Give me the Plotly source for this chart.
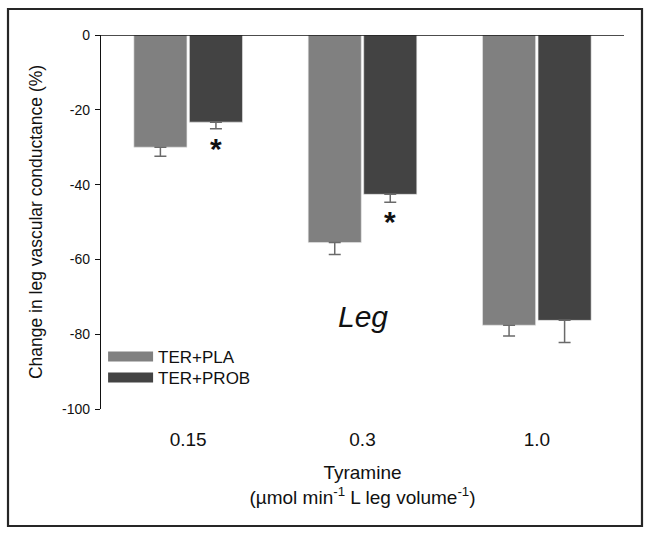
import plotly.graph_objects as go

# ---- data ----
categories = ["0.15", "0.3", "1.0"]
series_names = ["TER+PLA", "TER+PROB"]
pla_values = [-30.0, -55.5, -77.6]
pla_err = [2.4, 3.2, 2.9]
prob_values = [-23.3, -42.6, -76.3]
prob_err = [1.8, 2.1, 5.9]
y_ticks = [0, -20, -40, -60, -80, -100]
significant = [True, True, False]  # PROB vs PLA

colors = {"TER+PLA": "#808080", "TER+PROB": "#434343"}
legend_ids = {"TER+PLA": "legend", "TER+PROB": "legend2"}
FONT = "Liberation Sans, Arial, sans-serif"

x_idx = list(range(len(categories)))

fig = go.Figure()
for name, vals, errs in [("TER+PLA", pla_values, pla_err), ("TER+PROB", prob_values, prob_err)]:
    fig.add_trace(go.Bar(
        x=x_idx, y=vals, name=name, showlegend=False,
        marker=dict(color=colors[name], line=dict(color="#e8e8e8", width=0.6)),
        error_y=dict(type="data", symmetric=False, array=[0] * len(errs), arrayminus=errs,
                     color="#6a6a6a", thickness=1.5, width=6),
    ))
    # legend entry (wide swatch)
    fig.add_trace(go.Scatter(
        x=[None], y=[None], mode="lines", name=name, legend=legend_ids[name],
        line=dict(color=colors[name], width=11), showlegend=True,
    ))

# asterisks below PROB error bars
offset = 0.159
for i, sig in enumerate(significant):
    if sig:
        fig.add_annotation(x=i + offset, y=prob_values[i] - prob_err[i], yanchor="top",
                           text="<b>*</b>", showarrow=False, yshift=-1,
                           font=dict(size=30, color="#111", family=FONT))

# "Leg" label
fig.add_annotation(x=1, y=-75.2, text="<i>Leg</i>", showarrow=False,
                   font=dict(size=30, color="#111", family=FONT))

# zero line at top
fig.add_shape(type="line", xref="paper", yref="y", x0=0, x1=1, y0=0, y1=0,
              line=dict(color="#111", width=1.3))
# outer frame
fig.add_shape(type="rect", xref="paper", yref="paper",
              x0=-0.1778, x1=1.0344, y0=-0.3128, y1=1.0695,
              line=dict(color="#262626", width=2.2), fillcolor="rgba(0,0,0,0)")

legend_style = dict(xanchor="left", yanchor="top",
                    font=dict(size=17, family=FONT, color="#111"),
                    bgcolor="rgba(0,0,0,0)", borderwidth=0, tracegroupgap=0,
                    itemwidth=45, itemclick=False)

fig.update_layout(
    width=651, height=536,
    margin=dict(l=101, r=27, t=35, b=127),
    plot_bgcolor="white", paper_bgcolor="white",
    barmode="group", bargap=0.363, bargroupgap=0.044,
    font=dict(family=FONT, color="#111"),
    legend=dict(x=0.004, y=0.1872, **legend_style),
    legend2=dict(x=0.004, y=0.131, **legend_style),
    showlegend=True,
)
fig.update_xaxes(
    range=[-0.5, 2.5], tickvals=x_idx, ticktext=categories,
    showline=False, showgrid=False, zeroline=False, ticks="",
    ticklabelstandoff=17,
    tickfont=dict(size=19, family=FONT, color="#111"),
    title=dict(text="Tyramine<br>(µmol min<sup>-1</sup> L leg volume<sup>-1</sup>)",
               font=dict(size=19, family=FONT, color="#111"), standoff=16),
)
fig.update_yaxes(
    range=[-100, 0], tickvals=y_ticks, ticktext=[str(v) for v in y_ticks],
    showline=True, linecolor="#111", linewidth=1.3, mirror=False,
    ticks="outside", ticklen=5, tickcolor="#111", tickwidth=1.3,
    ticklabelstandoff=2,
    showgrid=False, zeroline=False,
    tickfont=dict(size=14, family=FONT, color="#111"),
    title=dict(text="Change in leg vascular conductance (%)",
               font=dict(size=17.5, family=FONT, color="#111"), standoff=14),
)

fig.write_html("out.html", config={"displayModeBar": False},
               post_script="document.body.style.margin='0px';")
